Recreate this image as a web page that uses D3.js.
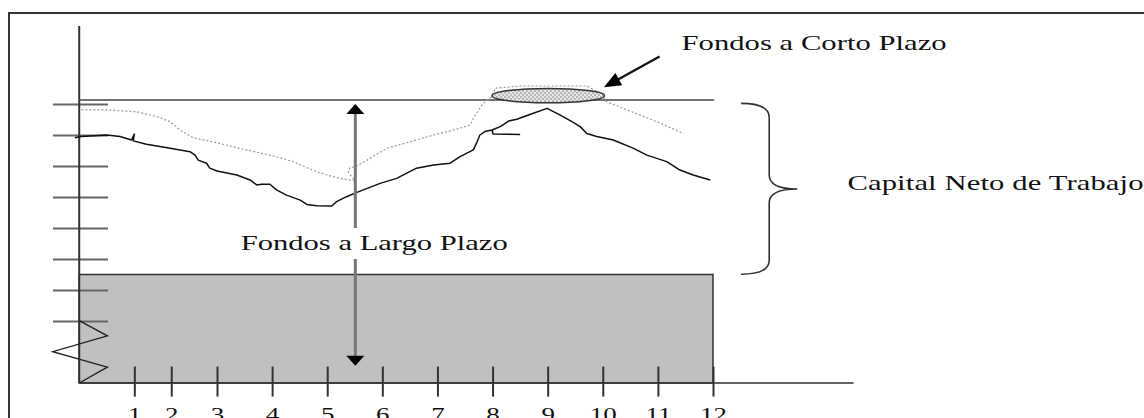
<!DOCTYPE html>
<html>
<head>
<meta charset="utf-8">
<script src="https://cdn.jsdelivr.net/npm/d3@7"></script>
<style>
html,body{margin:0;padding:0;background:#fff;overflow:hidden;}
svg{display:block;}
text{font-family:"Liberation Serif","Times New Roman",serif;fill:#111;}
</style>
</head>
<body>
<svg id="chart" width="1144" height="418"></svg>
<script>
// ---------- data (chart units: x = months, y = funds level) ----------
const xTickValues = [1.5, 2.17, 3, 4, 5, 6, 7, 8, 9, 10, 11, 12];
const xTickLabels = ["1","2","3","4","5","6","7","8","9","10","11","12"];
const yTickValues = [2, 3, 4, 5, 6, 7, 8, 9];

// actual current assets (solid line)
const solidX = [0.42,0.54,1.00,1.24,1.45,1.50,1.48,1.72,2.15,2.51,2.60,2.66,2.81,2.87,3.00,3.36,3.60,3.72,3.81,3.96,4.08,4.26,4.51,4.63,4.81,5.08,5.17,5.35,5.54,5.96,6.26,6.62,6.93,7.23,7.41,7.65,7.72,7.77,7.86,7.99,8.14,8.29,8.44,8.74,8.99,9.22,9.44,9.59,9.71,9.89,10.19,10.56,10.80,11.16,11.40,11.64,11.95];
const solidY = [7.91,7.95,8.00,7.95,7.84,8.03,7.81,7.70,7.57,7.46,7.35,7.19,7.09,6.93,6.84,6.71,6.55,6.39,6.41,6.41,6.23,6.06,5.90,5.76,5.72,5.71,5.85,6.01,6.15,6.44,6.60,6.93,7.03,7.09,7.30,7.52,7.78,8.00,8.11,8.16,8.27,8.45,8.51,8.70,8.86,8.65,8.43,8.27,8.05,7.95,7.84,7.57,7.35,7.14,6.87,6.71,6.55];
// small stub drawn on the solid line
const stubX = [7.99, 8.01, 8.50];
const stubY = [8.16, 8.03, 8.02];

// dotted line
const dottedX = [0.54,1.00,1.54,1.91,2.15,2.33,2.57,2.93,3.36,3.96,4.38,4.69,4.99,5.23,5.50,5.38,5.41,5.54,6.08,6.50,6.93,7.41,7.59,7.65,7.83,7.99,8.05,8.50,9.71,9.95,10.07,10.44,10.98,11.46];
const dottedY = [8.81,8.81,8.75,8.59,8.43,8.16,7.91,7.78,7.59,7.35,7.14,6.90,6.71,6.60,6.52,6.81,6.94,7.00,7.57,7.78,8.00,8.22,8.32,8.54,9.02,9.24,9.51,9.58,9.58,9.35,9.07,8.81,8.43,8.05];

// permanent assets block & total funding level
const blockX = [0.5, 12.0];
const blockY = [0, 3.5];
const totalLevel = 9.13;
const totalLevelX = [0.5, 12.02];

// axis break (zigzag)
const breakX = [0.50, 1.01, 0.02, 1.01, 0.50];
const breakY = [2.01, 1.52, 1.01, 0.51, 0.0];

// short-term funds ellipse
const ellipseC = [9.01, 9.27];
const ellipseR = [1.02, 0.23];

// arrows
const longArrowX = 5.51;
const longArrowY = [9.0, 0.56];
const longGapY = [5.0, 4.0];
const shortArrowFrom = [11.03, 10.53];
const shortArrowTo = [10.02, 9.54];

// brace
const braceX = [12.51, 13.02, 13.53];
const braceY = [9.02, 6.26, 3.51];

// labels
const labels = [
  {text:"Fondos a Corto Plazo", x:11.43, y:10.74, len:265},
  {text:"Fondos a Largo Plazo", x:3.43, y:4.29, len:267},
  {text:"Capital Neto de Trabajo", x:14.44, y:6.23, len:296}
];

// ---------- scales ----------
const svg = d3.select("#chart");
const x = d3.scaleLinear().domain([3, 12]).range([217, 713]);
const y = d3.scaleLinear().domain([0, 9]).range([383, 104]);
const SX = 1.53; // horizontal stretch of the lettering

// defs
const defs = svg.append("defs");
const pat = defs.append("pattern").attr("id","check").attr("width",4).attr("height",4).attr("patternUnits","userSpaceOnUse");
pat.append("rect").attr("width",4).attr("height",4).attr("fill","#e6e6e6");
pat.append("rect").attr("width",2).attr("height",2).attr("fill","#b8b8b8");
pat.append("rect").attr("x",2).attr("y",2).attr("width",2).attr("height",2).attr("fill","#b8b8b8");

// arrowhead helper: filled triangle with tip at (tx,ty), pointing along (dx,dy)
function arrowHead(tx, ty, fx, fy, len, half) {
  const dx = tx - fx, dy = ty - fy, L = Math.hypot(dx, dy);
  const ux = dx / L, uy = dy / L, px = -uy, py = ux;
  const bx = tx - ux * len, by = ty - uy * len;
  return `M${tx},${ty} L${bx + px*half},${by + py*half} L${bx - px*half},${by - py*half} Z`;
}

// frame
svg.append("rect").attr("x",9).attr("y",13).attr("width",1160).attr("height",430)
  .attr("fill","none").attr("stroke","#333").attr("stroke-width",2);

// block
svg.append("rect")
  .attr("x", x(blockX[0])).attr("y", y(blockY[1]))
  .attr("width", x(blockX[1]) - x(blockX[0])).attr("height", y(blockY[0]) - y(blockY[1]))
  .attr("fill","#c0c0c0").attr("stroke","#333").attr("stroke-width",1.5);

// y ticks
const yAxis = d3.axisRight(y).tickValues(yTickValues).tickSize(55).tickFormat("");
const gy = svg.append("g").attr("transform",`translate(53,0)`).call(yAxis);
gy.select(".domain").remove();
gy.selectAll(".tick line").attr("stroke","#666").attr("stroke-width",2);

// x ticks
const xAxis = d3.axisBottom(x).tickValues(xTickValues).tickSize(30)
  .tickFormat((d,i)=>xTickLabels[i]);
const gx = svg.append("g").attr("transform",`translate(0,${y(0.53)})`).call(xAxis);
gx.select(".domain").remove();
gx.selectAll(".tick line").attr("stroke","#333").attr("stroke-width",2);
gx.selectAll(".tick text")
  .attr("font-size",18).attr("font-family","Liberation Serif").attr("fill","#111")
  .attr("y", null).attr("dy", null)
  .attr("transform", `translate(0,${y(0) - y(0.53) + 37.5}) scale(1.5,1)`);

// axes lines
svg.append("line").attr("x1",x(0.5)).attr("x2",x(0.5)).attr("y1",y(11.52)).attr("y2",y(0))
  .attr("stroke","#333").attr("stroke-width",2);
svg.append("line").attr("x1",x(0.5)).attr("x2",x(14.55)).attr("y1",y(0)).attr("y2",y(0))
  .attr("stroke","#333").attr("stroke-width",1.5);

// zigzag break
svg.append("path").attr("d", d3.line()(breakX.map((v,i)=>[x(v), y(breakY[i])])))
  .attr("fill","none").attr("stroke","#222").attr("stroke-width",1.4);

// total level line
svg.append("line").attr("x1",x(totalLevelX[0])).attr("x2",x(totalLevelX[1]))
  .attr("y1",y(totalLevel)).attr("y2",y(totalLevel)).attr("stroke","#444").attr("stroke-width",1.4);

// dotted line
svg.append("path").attr("d", d3.line()(dottedX.map((v,i)=>[x(v), y(dottedY[i])])))
  .attr("fill","none").attr("stroke","#999").attr("stroke-width",1.2).attr("stroke-dasharray","2,2");

// solid line
svg.append("path").attr("d", d3.line()(solidX.map((v,i)=>[x(v), y(solidY[i])])))
  .attr("fill","none").attr("stroke","#111").attr("stroke-width",1.5).attr("stroke-linejoin","round");
svg.append("path").attr("d", d3.line()(stubX.map((v,i)=>[x(v), y(stubY[i])])))
  .attr("fill","none").attr("stroke","#111").attr("stroke-width",1.5);

// ellipse
svg.append("ellipse").attr("cx", x(ellipseC[0])).attr("cy", y(ellipseC[1]))
  .attr("rx", x(ellipseC[0]+ellipseR[0]) - x(ellipseC[0]))
  .attr("ry", y(ellipseC[1]-ellipseR[1]) - y(ellipseC[1]))
  .attr("fill","url(#check)").attr("stroke","#333").attr("stroke-width",1.5);

// long-term funds arrow (two segments with gap for label)
const ax = x(longArrowX);
const headLen = 10, headHalf = 9;
svg.append("line").attr("x1",ax).attr("x2",ax).attr("y1",y(longGapY[0])).attr("y2",y(longArrowY[0]) + headLen - 1)
  .attr("stroke","#777").attr("stroke-width",3);
svg.append("line").attr("x1",ax).attr("x2",ax).attr("y1",y(longGapY[1])).attr("y2",y(longArrowY[1]) - headLen + 1)
  .attr("stroke","#777").attr("stroke-width",3);
svg.append("path").attr("d", arrowHead(ax, y(longArrowY[0]), ax, y(longGapY[0]), headLen, headHalf)).attr("fill","#000");
svg.append("path").attr("d", arrowHead(ax, y(longArrowY[1]), ax, y(longGapY[1]), headLen, headHalf)).attr("fill","#000");

// short-term arrow
const sfx = x(shortArrowFrom[0]), sfy = y(shortArrowFrom[1]);
const stx = x(shortArrowTo[0]), sty = y(shortArrowTo[1]);
const sL = Math.hypot(stx - sfx, sty - sfy);
svg.append("line").attr("x1",sfx).attr("y1",sfy)
  .attr("x2", stx - (stx - sfx) / sL * 12).attr("y2", sty - (sty - sfy) / sL * 12)
  .attr("stroke","#111").attr("stroke-width",2.2);
svg.append("path").attr("d", arrowHead(stx, sty, sfx, sfy, 17, 7)).attr("fill","#000");

// brace
const bx0 = x(braceX[0]), bx1 = x(braceX[1]), bx2 = x(braceX[2]);
const byT = y(braceY[0]), byM = y(braceY[1]), byB = y(braceY[2]);
const r = 14;
const bp = d3.path();
bp.moveTo(bx0, byT);
bp.quadraticCurveTo(bx1, byT, bx1, byT + r);
bp.lineTo(bx1, byM - r);
bp.quadraticCurveTo(bx1, byM, bx2, byM);
bp.quadraticCurveTo(bx1, byM, bx1, byM + r);
bp.lineTo(bx1, byB - r);
bp.quadraticCurveTo(bx1, byB, bx0, byB);
svg.append("path").attr("d", bp.toString()).attr("fill","none").attr("stroke","#333").attr("stroke-width",1.6);

// labels (lettering is horizontally stretched as in the source figure)
svg.selectAll("text.lbl").data(labels).join("text").attr("class","lbl")
  .attr("transform", d=>`translate(${x(d.x)},${y(d.y)}) scale(${SX},1)`)
  .attr("font-size",20)
  .attr("textLength", d=>d.len / SX).attr("lengthAdjust","spacing")
  .text(d=>d.text);
</script>
</body>
</html>
